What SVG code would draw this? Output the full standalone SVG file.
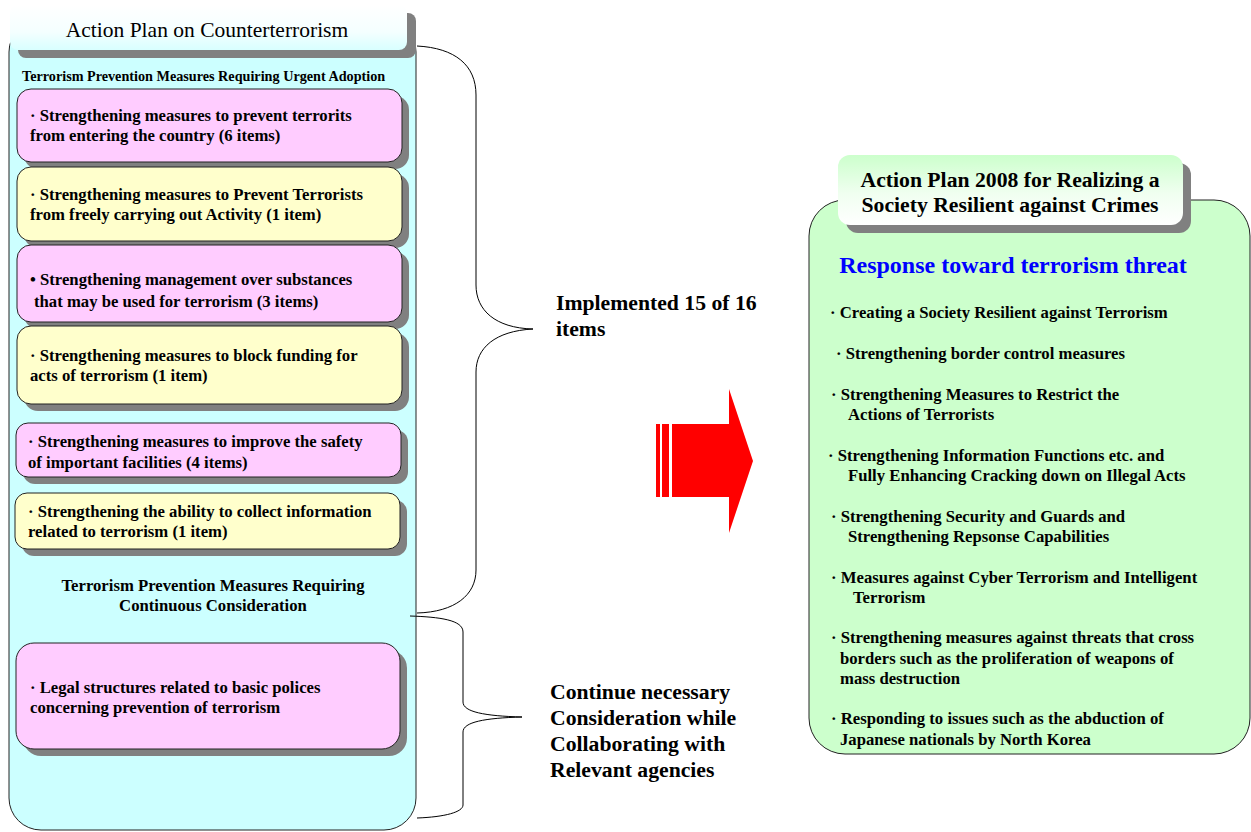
<svg xmlns="http://www.w3.org/2000/svg" width="1251" height="832" viewBox="0 0 1251 832">
<defs>
<linearGradient id="gCyan" x1="0" y1="0" x2="0" y2="1"><stop offset="0" stop-color="#FFFFFF"/><stop offset="0.6" stop-color="#F4FFFF"/><stop offset="1" stop-color="#D8FFFF"/></linearGradient>
<linearGradient id="gGreen" x1="0" y1="0" x2="0" y2="1"><stop offset="0" stop-color="#CCFFCC"/><stop offset="0.55" stop-color="#F0FFF0"/><stop offset="1" stop-color="#FFFFFF"/></linearGradient>
</defs>
<style>
text{font-family:"Liberation Serif","Times New Roman",serif;fill:#000}
.b{font-weight:bold}
.item{font-size:16.7px;font-weight:bold}
.big{font-size:21.7px;font-weight:bold}
.shadow{fill:#808080}
.pink{fill:#FFCCFF;stroke:#222;stroke-width:1}
.yel{fill:#FFFFCC;stroke:#222;stroke-width:1}
.brace{fill:none;stroke:#000;stroke-width:1}
</style>
<rect width="1251" height="832" fill="#FFFFFF"/>

<g id="left-container">
<rect x="9" y="20" width="407" height="810" rx="32" fill="#CCFFFF" stroke="#222" stroke-width="1"/>
<rect class="shadow" x="18" y="13" width="398" height="45" rx="8"/>
<rect x="10" y="5" width="397" height="45" rx="8" fill="url(#gCyan)"/>
<text x="207" y="37" font-size="21.5" text-anchor="middle">Action Plan on Counterterrorism</text>
<text x="22" y="81" font-size="14.2" class="b">Terrorism Prevention Measures Requiring Urgent Adoption</text>
<text x="213" y="591" class="item" text-anchor="middle">Terrorism Prevention Measures Requiring</text>
<text x="213" y="611" class="item" text-anchor="middle">Continuous Consideration</text>
</g>

<g id="box1">
<rect class="shadow" x="24" y="96" width="385" height="73" rx="14"/>
<rect class="pink" x="17" y="89" width="385" height="73" rx="14"/>
<text x="30" y="121" class="item">· Strengthening measures to prevent terrorits</text>
<text x="30" y="141" class="item">from entering the country (6 items)</text>
</g>
<g id="box2">
<rect class="shadow" x="24" y="174" width="385" height="74" rx="14"/>
<rect class="yel" x="17" y="167" width="385" height="74" rx="14"/>
<text x="30" y="200" class="item">· Strengthening measures to Prevent Terrorists</text>
<text x="30" y="220" class="item">from freely carrying out Activity (1 item)</text>
</g>
<g id="box3">
<rect class="shadow" x="24" y="252" width="385" height="77" rx="14"/>
<rect class="pink" x="17" y="245" width="385" height="77" rx="14"/>
<text x="30" y="285" class="item">•  Strengthening management over substances</text>
<text x="34" y="307" class="item">that may be used for terrorism  (3 items)</text>
</g>
<g id="box4">
<rect class="shadow" x="24" y="333" width="385" height="78" rx="14"/>
<rect class="yel" x="17" y="326" width="385" height="78" rx="14"/>
<text x="30" y="361" class="item">· Strengthening measures to block funding for</text>
<text x="30" y="381" class="item">acts of terrorism  (1 item)</text>
</g>
<g id="box5">
<rect class="shadow" x="23" y="430" width="385" height="54" rx="12"/>
<rect class="pink" x="16" y="423" width="385" height="54" rx="12"/>
<text x="28" y="447" class="item">· Strengthening measures to improve the safety</text>
<text x="28" y="468" class="item">of important facilities (4 items)</text>
</g>
<g id="box6">
<rect class="shadow" x="22" y="500" width="385" height="56" rx="12"/>
<rect class="yel" x="15" y="493" width="385" height="56" rx="12"/>
<text x="28" y="517" class="item">· Strengthening the ability to collect  information</text>
<text x="28" y="537" class="item">related to terrorism  (1 item)</text>
</g>
<g id="box7">
<rect class="shadow" x="23" y="650" width="384" height="106" rx="18"/>
<rect class="pink" x="16" y="643" width="384" height="106" rx="18"/>
<text x="30" y="693" class="item">· Legal structures related to basic polices</text>
<text x="30" y="713" class="item">concerning prevention of terrorism</text>
</g>

<g id="connectors">
<path class="brace" d="M417,46 C455,48 476,65 476,95 L476,285 C476,310 495,328 533,329 C495,331 476,348 476,372 L476,570 C476,595 455,612 417,613"/>
<path class="brace" d="M410,616 C440,617 463,620 463,632 L463,702 C463,712 485,716 522,717 C485,718 463,722 463,732 L463,805 C463,812 445,817 417,818"/>
</g>

<g id="label-implemented">
<text x="556" y="310" class="big">Implemented 15 of 16</text>
<text x="556" y="336" class="big">items</text>
</g>
<g id="label-continue">
<text x="550" y="699" class="big">Continue necessary</text>
<text x="550" y="725" class="big">Consideration while</text>
<text x="550" y="751" class="big">Collaborating with</text>
<text x="550" y="777" class="big">Relevant agencies</text>
</g>

<g id="red-arrow" fill="#FF0000">
<rect x="656" y="424" width="4" height="73"/>
<rect x="662" y="424" width="7" height="73"/>
<path d="M672,424 L729,424 L729,389 L753,461 L729,533 L729,497 L672,497 Z"/>
</g>

<g id="right-container">
<rect x="809" y="200" width="441" height="554" rx="36" fill="#CCFFCC" stroke="#222" stroke-width="1"/>
<rect class="shadow" x="846" y="163" width="345" height="70" rx="12"/>
<rect x="838" y="155" width="345" height="70" rx="12" fill="url(#gGreen)"/>
<text x="1010" y="187" class="big" text-anchor="middle">Action Plan 2008 for Realizing a</text>
<text x="1010" y="212" class="big" text-anchor="middle">Society Resilient against Crimes</text>
<text x="1013" y="273" font-size="24" class="b" text-anchor="middle" style="fill:#0000FF">Response toward terrorism threat</text>
<text x="830" y="318" class="item">· Creating a Society Resilient against Terrorism</text>
<text x="836" y="359" class="item">· Strengthening border control measures</text>
<text x="831" y="400" class="item">· Strengthening Measures to Restrict  the</text>
<text x="848" y="420" class="item">Actions of Terrorists</text>
<text x="828" y="461" class="item">· Strengthening Information Functions etc. and</text>
<text x="848" y="481" class="item">Fully Enhancing Cracking down on Illegal Acts</text>
<text x="831" y="522" class="item">· Strengthening Security and Guards and</text>
<text x="848" y="542" class="item">Strengthening Repsonse Capabilities</text>
<text x="831" y="583" class="item">· Measures against Cyber Terrorism  and Intelligent</text>
<text x="853" y="603" class="item">Terrorism</text>
<text x="831" y="643" class="item">· Strengthening measures against threats that cross</text>
<text x="840" y="664" class="item">borders such as the proliferation of weapons of</text>
<text x="840" y="684" class="item">mass destruction</text>
<text x="831" y="724" class="item">· Responding to issues such as the abduction of</text>
<text x="840" y="745" class="item">Japanese nationals by North Korea</text>
</g>
</svg>
